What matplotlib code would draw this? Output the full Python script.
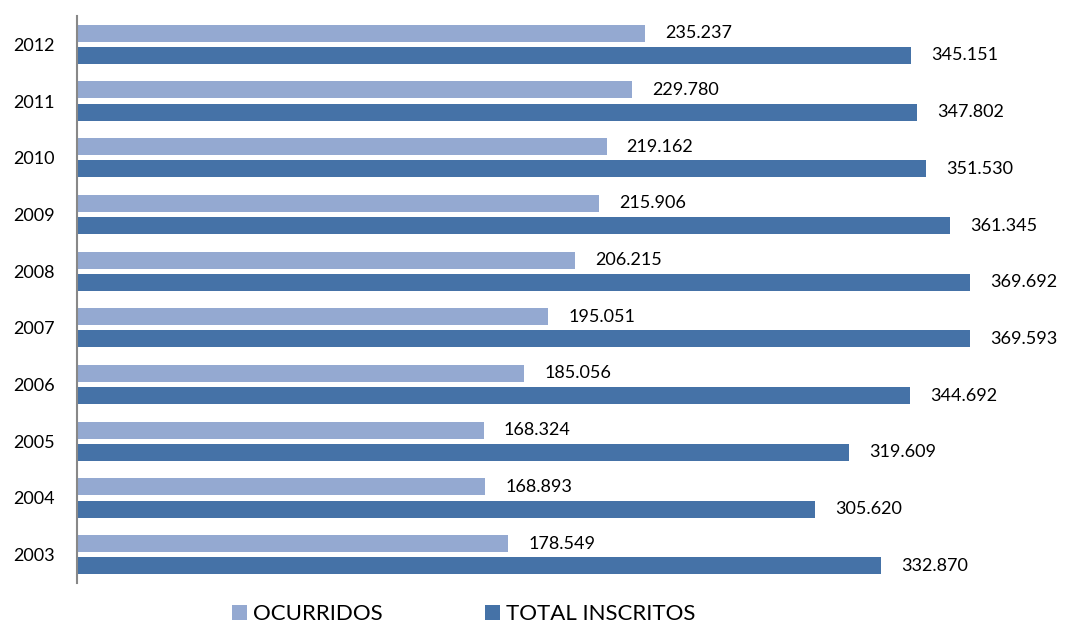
import matplotlib.pyplot as plt
import numpy as np

# Datos (de 2003 a 2012)
anios = ['2003', '2004', '2005', '2006', '2007', '2008', '2009', '2010', '2011', '2012']
ocurridos = [178549, 168893, 168324, 185056, 195051, 206215, 215906, 219162, 229780, 235237]
inscritos = [332870, 305620, 319609, 344692, 369593, 369692, 361345, 351530, 347802, 345151]

c_claro = '#94A9D1'
c_oscuro = '#4572A7'

plt.rcParams['font.family'] = ['Lato', 'DejaVu Sans']

fig = plt.figure(figsize=(10.66, 6.26), dpi=100)
ax = fig.add_axes([77 / 1066, 1 - 583 / 626, 987 / 1066, 567 / 626])

y = np.arange(len(anios))
h = 0.3
off = 0.195
ax.barh(y + off, ocurridos, height=h, color=c_claro, label='OCURRIDOS')
ax.barh(y - off, inscritos, height=h, color=c_oscuro, label='TOTAL INSCRITOS')

# Etiquetas de valores (separador de miles con punto)
for yi, v in zip(y, ocurridos):
    ax.text(v + 8300, yi + off, f'{v:,}'.replace(',', '.'), va='center', ha='left', fontsize=13)
for yi, v in zip(y, inscritos):
    ax.text(v + 8300, yi - off, f'{v:,}'.replace(',', '.'), va='center', ha='left', fontsize=13)

ax.set_xlim(0, 408500)
ax.set_ylim(-0.5, 9.5)
ax.set_yticks(y)
ax.set_yticklabels(anios, fontsize=13)
ax.tick_params(axis='y', length=0, pad=16)
ax.set_xticks([])
for s in ['top', 'right', 'bottom']:
    ax.spines[s].set_visible(False)
ax.spines['left'].set_color('#888888')
ax.spines['left'].set_linewidth(1.5)

fig.legend(loc='lower left', bbox_to_anchor=(216 / 1066, -0.022), ncol=2, frameon=False,
           fontsize=16, handlelength=0.7, handleheight=0.7, handletextpad=0.25,
           columnspacing=4.6, borderpad=0.2)

fig.savefig('out.png', dpi=100)
